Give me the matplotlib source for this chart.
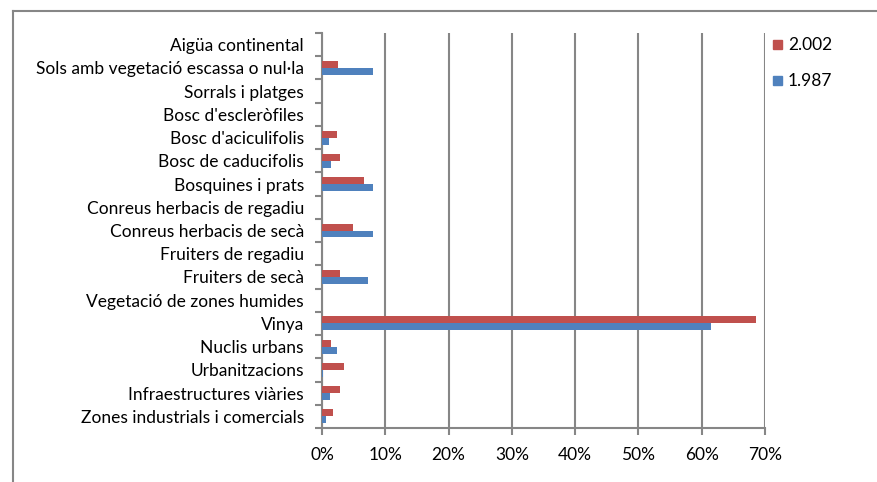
import matplotlib
matplotlib.use("Agg")
import matplotlib.pyplot as plt
import numpy as np
from matplotlib.patches import Rectangle
from matplotlib.lines import Line2D

categories = [
    "Zones industrials i comercials",
    "Infraestructures viàries",
    "Urbanitzacions",
    "Nuclis urbans",
    "Vinya",
    "Vegetació de zones humides",
    "Fruiters de secà",
    "Fruiters de regadiu",
    "Conreus herbacis de secà",
    "Conreus herbacis de regadiu",
    "Bosquines i prats",
    "Bosc de caducifolis",
    "Bosc d'aciculifolis",
    "Bosc d'escleròfiles",
    "Sorrals i platges",
    "Sols amb vegetació escassa o nul·la",
    "Aigüa continental",
]
values_1987 = [0.7, 1.2, 0.2, 2.4, 61.4, 0, 7.3, 0, 8.0, 0, 8.0, 1.5, 1.1, 0, 0, 8.1, 0]
values_2002 = [1.7, 2.8, 3.4, 1.5, 68.5, 0, 2.9, 0, 4.9, 0, 6.6, 2.9, 2.3, 0, 0, 2.6, 0]
series_names = ["1.987", "2.002"]
xticks = [0, 10, 20, 30, 40, 50, 60, 70]
xtick_labels = ["0%", "10%", "20%", "30%", "40%", "50%", "60%", "70%"]

FONT = "Lato"
plt.rcParams['font.family'] = [FONT, 'DejaVu Sans']
FS = 12.5

W, H = 878, 482
fig = plt.figure(figsize=(W / 100, H / 100), dpi=100)

# outer frame (only top and left edges visible)
fig.add_artist(Line2D([13 / W, 13 / W], [0, 1 - 11 / H], color="#868686", lw=1.5, transform=fig.transFigure))
fig.add_artist(Line2D([13 / W, 1], [1 - 11 / H, 1 - 11 / H], color="#868686", lw=1.5, transform=fig.transFigure))

left, right, top, bottom = 322, 765, 33, 428
ax = fig.add_axes([left / W, 1 - bottom / H, (right - left) / W, (bottom - top) / H])

red = "#C0504D"
blue = "#4F81BD"
y = np.arange(len(categories))
h = 0.3
ax.barh(y - h / 2, values_1987, height=h, color=blue, label=series_names[0], zorder=3)
ax.barh(y + h / 2, values_2002, height=h, color=red, label=series_names[1], zorder=3)

ax.set_xlim(0, 70)
ax.set_ylim(-0.5, len(categories) - 0.5)
ax.set_xticks(xticks)
ax.set_xticklabels(xtick_labels, fontsize=FS)
ax.set_yticks(y)
ax.set_yticklabels(categories, fontsize=FS)
ax.set_yticks(np.arange(-0.5, len(categories), 1), minor=True)

for s in ["top", "right"]:
    ax.spines[s].set_visible(False)
for s in ["left", "bottom"]:
    ax.spines[s].set_color("#868686")
    ax.spines[s].set_linewidth(1.5)

ax.grid(axis="x", color="#868686", lw=1.5, zorder=0)
ax.tick_params(axis="y", which="major", length=0, pad=13, colors="black")
ax.tick_params(axis="y", which="minor", length=5, width=1.5, color="#868686")
ax.tick_params(axis="x", length=5, width=1.5, color="#868686", pad=9)

# legend
for (name, col, yy) in [(series_names[1], red, 45), (series_names[0], blue, 81)]:
    fig.add_artist(Rectangle((773 / W, 1 - (yy + 4) / H), 9 / W, 9 / H, color=col, transform=fig.transFigure))
    fig.text(788 / W, 1 - yy / H, name, fontsize=FS, va="center", ha="left")

fig.savefig("out.png", dpi=100)
